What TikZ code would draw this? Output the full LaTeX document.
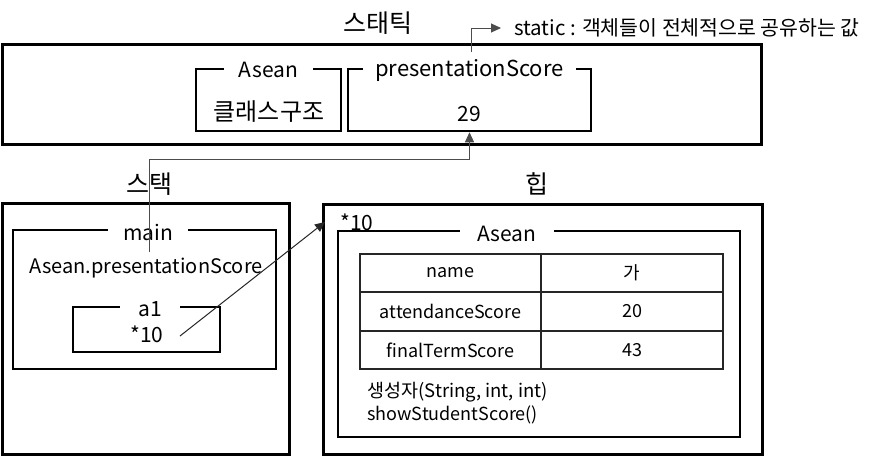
\documentclass[tikz,border=0pt]{standalone}
\usepackage{fontspec}
\setmainfont{Noto Sans CJK KR}
\usetikzlibrary{arrows.meta}
\begin{document}
\begin{tikzpicture}[x=1pt,y=-1pt,
 outer/.style={draw, line width=3pt, inner sep=0pt},
 inner/.style={draw, line width=2.5pt, inner sep=0pt},
 cell/.style={draw=black!85, line width=2pt, minimum width=181.5pt, minimum height=38.5pt, inner sep=0pt, font=\fontsize{18}{18}\selectfont},
 ttl/.style={fill=white, inner xsep=15pt, inner ysep=1pt, yshift=-2.5pt, font=\fontsize{21}{21}\selectfont},
 txt/.style={inner sep=0pt, font=\fontsize{20}{20}\selectfont},
 small/.style={inner sep=0pt, font=\fontsize{18}{18}\selectfont},
 head/.style={inner sep=0pt, font=\fontsize{25}{25}\selectfont},
 conn/.style={draw=black!70, line width=1pt, -{Triangle[length=10pt,width=9pt]}}
]
\useasboundingbox (0,0) rectangle (878,456);
\fill[white] (0,0) rectangle (878,456);

% titles
\node[head] (tstatic) at (378,23) {스태틱};
\node[head] (tstack) at (149,184) {스택};
\node[head] (theap) at (537,184) {힙};

% static area
\node[outer, minimum width=759pt, minimum height=100pt] (static) at (382,94) {};
\node[inner, minimum width=145pt, minimum height=62pt] (aseanS) at (268.5,100) {};
\node[ttl] (aseanSl) at (aseanS.north) {Asean};
\node[inner sep=0pt, font=\fontsize{24}{24}\selectfont] (cls) at (269,112) {클래스구조};
\node[inner, minimum width=243pt, minimum height=62pt] (ps) at (469.5,100) {};
\node[ttl, inner xsep=12pt, font=\fontsize{22}{22}\selectfont] (psl) at (ps.north) {presentationScore};
\node[txt, font=\fontsize{21}{21}\selectfont] (psv) at (469.5,114) {29};

% note
\node[anchor=west, inner xsep=13pt, inner ysep=0pt, font=\fontsize{20.5}{20.5}\selectfont] (note) at (501,28) {static : 객체들이 전체적으로 공유하는 값};
\coordinate (nstart) at (471,52);
\draw[conn] (nstart) |- (note.west);

% stack
\node[outer, minimum width=287pt, minimum height=251pt] (stack) at (145.5,328.5) {};
\node[inner, minimum width=263pt, minimum height=139pt] (main) at (144.5,299.5) {};
\node[ttl] (mainl) at (148,230) {main};
\node[txt] (aps) at (146,268) {Asean.presentationScore};
\node[inner, minimum width=147pt, minimum height=45pt] (a1) at (146.5,329.5) {};
\node[ttl, inner xsep=18pt] (a1l) at (150,307) {a1};
\node[txt, font=\fontsize{21}{21}\selectfont] (a1v) at (147,334) {*10};

% heap
\node[outer, minimum width=439pt, minimum height=250pt] (heap) at (542.5,329) {};
\node[txt, font=\fontsize{21}{21}\selectfont, anchor=west] (addr) at (340,222) {*10};
\node[inner, minimum width=402pt, minimum height=206pt] (obj) at (539,334) {};
\node[ttl, inner xsep=17pt] (objl) at (507,231) {Asean};
\node[cell] (c11) at (450.5,273) {name};
\node[cell] (c12) at (632,273) {가};
\node[cell] (c21) at (450.5,311.5) {attendanceScore};
\node[cell] (c22) at (632,311.5) {20};
\node[cell] (c31) at (450.5,350) {finalTermScore};
\node[cell] (c32) at (632,350) {43};
\node[small, anchor=west, font=\fontsize{18.5}{18.5}\selectfont] (m1) at (367,392) {생성자(String, int, int)};
\node[small, anchor=west] (m2) at (367,415) {showStudentScore()};

% connectors
\coordinate (pstart) at (149,252);
\coordinate (pbend) at (149,159);
\draw[conn] (pstart) -- (pbend) -| (ps.south);
\coordinate (ptr) at (180,336);
\coordinate (heapref) at (325,222);
\draw[conn, draw=black!85] (ptr) -- (heapref);
\end{tikzpicture}
\end{document}
